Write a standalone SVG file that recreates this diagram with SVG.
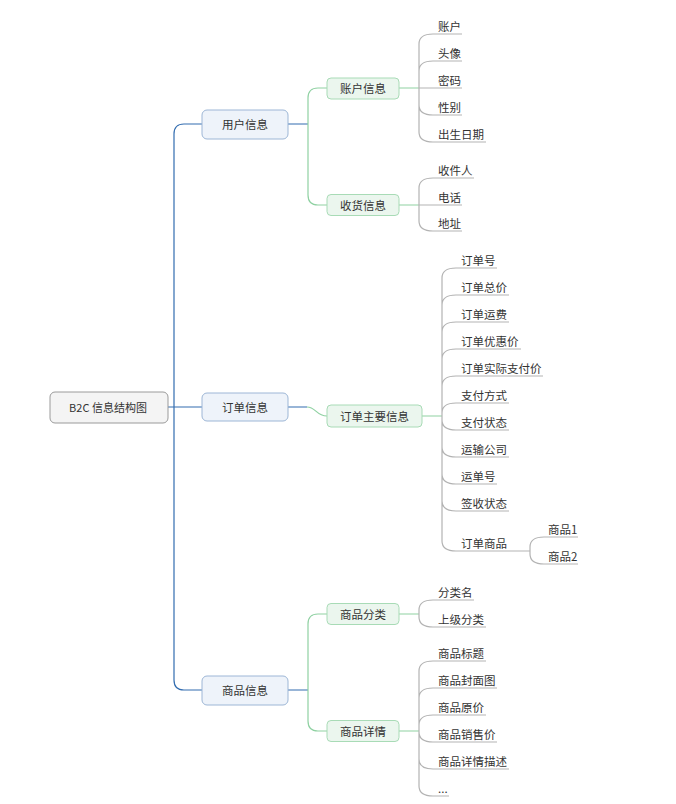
<svg xmlns="http://www.w3.org/2000/svg" width="676" height="804" viewBox="0 0 676 804">
<style>
text{font-family:"Noto Sans CJK SC","Liberation Sans",sans-serif;font-size:11.5px;fill:#333}
.root rect{fill:#f4f4f4;stroke:#9a9a9a;stroke-width:1}
.root text{font-size:11px}
.l1 rect{fill:#eef3fa;stroke:#9db6d6;stroke-width:1}
.l2 rect{fill:#ebf6ee;stroke:#a8dbb6;stroke-width:1}
.mid{text-anchor:middle}
.blue{fill:none;stroke:#336db0;stroke-width:1.2}
.green{fill:none;stroke:#8fd1a2;stroke-width:1.2}
.gray{fill:none;stroke:#b3b3b3;stroke-width:1.2}
#leaves text{transform:translate(0,1.5px)}
</style>
<rect width="676" height="804" fill="#fff"/>
<g id="connectors">
<path class="blue" d="M168 407H202M174 407V134Q174 124 184 124H202M174 407V680Q174 690 184 690H202"/>
<path class="blue" d="M288 124H308M288 407H307M288 690H308"/>
<path class="green" d="M308 124V98Q308 88 318 88H327M308 124V195Q308 205 318 205H327"/>
<path class="green" d="M307 407C316 407 316 416 327 416"/>
<path class="green" d="M308 690V624Q308 614 318 614H327M308 690V721Q308 731 318 731H327"/>
<path class="green" d="M399 88H419M399 205H419M422 416H442M399 614H419M399 731H419"/>
<path class="gray" d="M419 88V44Q419 34 433 34H462M419 88V71Q419 61 433 61H462M419 88H462M419 88V105Q419 115 433 115H462M419 88V132Q419 142 433 142H486"/>
<path class="gray" d="M419 205V188Q419 178 433 178H474M419 205H462M419 205V221Q419 231 433 231H462"/>
<path class="gray" d="M442 416V278Q442 268 456 268H497M442 416V305Q442 295 456 295H509M442 416V332Q442 322 456 322H509M442 416V359Q442 349 456 349H521M442 416V386Q442 376 456 376H543M442 416V413Q442 403 456 403H509M442 416V420Q442 430 456 430H509M442 416V447Q442 457 456 457H509M442 416V474Q442 484 456 484H497M442 416V501Q442 511 456 511H509M442 416V541Q442 551 456 551H530"/>
<path class="gray" d="M530 551V547Q530 537 544 537H578M530 551V554Q530 564 544 564H578"/>
<path class="gray" d="M419 614V610Q419 600 433 600H474M419 614V617Q419 627 433 627H486"/>
<path class="gray" d="M419 731V671Q419 661 433 661H486M419 731V698Q419 688 433 688H497M419 731V725Q419 715 433 715H486M419 731V732Q419 742 433 742H497M419 731V759Q419 769 433 769H509M419 731V786Q419 796 433 796H449"/>
</g>
<g id="root" class="root"><rect x="50" y="392" width="118" height="31" rx="5"/><text class="mid" x="108" y="411.5">B2C 信息结构图</text></g>
<g id="user" class="l1"><rect x="202" y="110" width="86" height="29" rx="5"/><text class="mid" x="245" y="129">用户信息</text></g>
<g id="order" class="l1"><rect x="202" y="393" width="86" height="28" rx="5"/><text class="mid" x="245" y="411.5">订单信息</text></g>
<g id="goods" class="l1"><rect x="202" y="676" width="86" height="29" rx="5"/><text class="mid" x="245" y="695">商品信息</text></g>
<g id="account" class="l2"><rect x="327" y="78" width="72" height="21" rx="4"/><text class="mid" x="363" y="93">账户信息</text></g>
<g id="shipping" class="l2"><rect x="327" y="194.5" width="72" height="21" rx="4"/><text class="mid" x="363" y="209.5">收货信息</text></g>
<g id="ordermain" class="l2"><rect x="327" y="405" width="95" height="22" rx="4"/><text class="mid" x="374.5" y="420.5">订单主要信息</text></g>
<g id="category" class="l2"><rect x="327" y="603.5" width="72" height="21" rx="4"/><text class="mid" x="363" y="618.5">商品分类</text></g>
<g id="detail" class="l2"><rect x="327" y="720.5" width="72" height="21" rx="4"/><text class="mid" x="363" y="735.5">商品详情</text></g>
<g id="leaves">
<text x="438" y="29">账户</text>
<text x="438" y="56">头像</text>
<text x="438" y="83">密码</text>
<text x="438" y="110">性别</text>
<text x="438" y="137">出生日期</text>
<text x="438" y="173">收件人</text>
<text x="438" y="200">电话</text>
<text x="438" y="226">地址</text>
<text x="461" y="263">订单号</text>
<text x="461" y="290">订单总价</text>
<text x="461" y="317">订单运费</text>
<text x="461" y="344">订单优惠价</text>
<text x="461" y="371">订单实际支付价</text>
<text x="461" y="398">支付方式</text>
<text x="461" y="425">支付状态</text>
<text x="461" y="452">运输公司</text>
<text x="461" y="479">运单号</text>
<text x="461" y="506">签收状态</text>
<text x="461" y="546">订单商品</text>
<text x="548" y="532">商品1</text>
<text x="548" y="559">商品2</text>
<text x="438" y="595">分类名</text>
<text x="438" y="622">上级分类</text>
<text x="438" y="656">商品标题</text>
<text x="438" y="683">商品封面图</text>
<text x="438" y="710">商品原价</text>
<text x="438" y="737">商品销售价</text>
<text x="438" y="764">商品详情描述</text>
<text x="438" y="791">...</text>
</g>
</svg>
